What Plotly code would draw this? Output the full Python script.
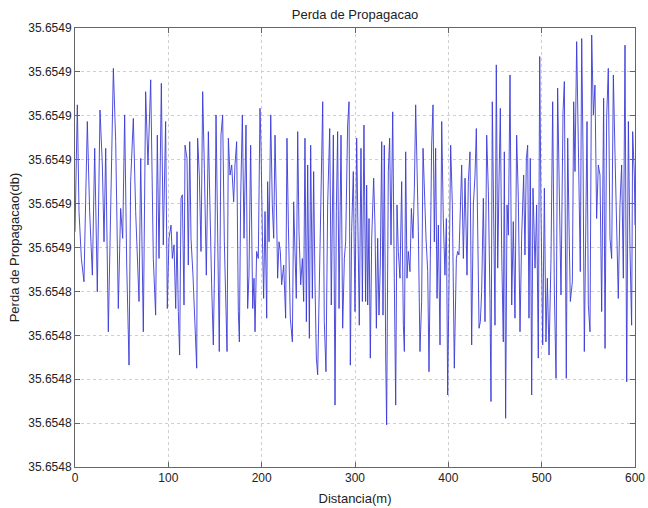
import plotly.graph_objects as go

# Distance (m) and propagation loss in segments.
# Loss values are given as offsets in micro-dB above BASE_DB.
BASE_DB = 35.6548

dist_a = [0.0,2.5,4.3,6.8,9.6,13.2,15.7,18.6,21.1,23.9,26.8,29.3,31.1,32.9,35.7,38.2,41.1,43.6,46.4,48.9,
          51.1,53.2,55.4,57.9,59.6,62.5,65.0,68.6,70.4,73.2,75.7,78.2,81.1,83.9,86.4,88.2,90.0,92.5,94.6,97.1,
          98.9,100.7]
loss_a = [53.6,82.5,58.2,47.5,42.2,78.7,58.2,43.7,72.6,39.9,81.3,68.8,51.3,72.6,30.8,58.2,90.8,74.1,36.1,58.9,
          52.1,80.2,46.0,23.2,65.0,79.4,58.2,37.7,70.3,30.8,85.5,68.8,88.2,47.5,34.6,75.6,47.5,87.4,50.6,78.7,
          36.1,52.1]

dist_b = [102.9,104.3,106.1,107.9,109.3,110.7,112.1,113.6,115.0,116.8,117.9,120.0,121.4,122.9,124.3,126.4,128.6,
          130.4,131.4,133.2,135.0,136.8,138.6,140.7,142.9,144.6,146.4,148.2,150.0,151.1,152.8,154.6,156.4,158.2,
          160.0,161.4,162.9,164.3,166.1,167.9,170.0,171.4,173.2,175.0,176.1,177.5,179.3,181.1,183.2,185.0,186.4,
          188.2,190.4,191.8,192.9,194.6,196.4,198.2]
loss_b = [55.1,47.5,50.6,36.1,53.6,35.4,25.5,61.2,62.0,36.9,73.3,70.3,46.0,74.1,52.1,43.7,30.1,22.5,74.9,66.5,
          49.1,85.5,68.0,43.7,76.4,55.1,41.5,27.8,52.1,80.2,58.9,26.3,75.6,80.2,51.3,41.5,26.3,74.9,66.5,68.8,
          60.4,68.8,74.1,35.4,28.5,61.2,80.2,52.1,77.9,36.1,43.7,73.3,36.1,43.0,30.8,49.1,47.5,81.7]

dist_c = [199.3,200.7,202.1,203.6,205.4,206.4,207.9,209.7,211.4,212.9,214.3,215.7,217.1,218.6,220.0,221.4,223.6,
          225.7,227.1,228.6,230.7,232.9,234.3,235.7,237.1,238.6,240.0,241.8,243.6,245.0,246.4,247.9,249.3,251.1,
          252.5,254.3,255.7,257.1,258.6,260.0,261.8,263.6,265.4,267.1,268.9,270.7,272.9,274.6,276.8,278.6,280.0,
          281.4,282.9,285.0,286.8,288.6,290.0,292.1,293.6]
loss_c = [73.3,53.6,38.4,58.2,33.9,65.0,51.3,80.2,59.7,52.1,75.6,61.2,43.0,51.3,49.1,41.5,46.0,33.9,74.9,55.1,
          33.9,28.5,60.4,49.1,38.4,76.4,53.6,41.5,47.5,37.7,74.9,33.1,68.8,29.3,73.3,38.4,67.3,42.2,24.8,21.0,
          43.0,66.5,83.2,33.1,21.7,59.7,77.1,36.9,75.6,14.1,58.2,76.4,36.1,75.6,31.6,47.5,51.3,77.9,83.2]

dist_d = [295.0,296.4,298.2,300.0,301.8,303.6,304.6,306.4,307.9,309.6,311.4,312.5,313.6,315.0,316.4,317.9,320.0,
          321.4,322.9,324.3,325.7,327.1,328.6,330.0,331.4,332.9,333.9,335.7,337.1,338.6,340.4,342.1,343.6,345.0,
          346.4,348.2,350.0,351.8,352.9,354.3,355.7,357.1,358.9,360.4,362.1,363.6,365.0,366.4,367.9,369.6,371.4,
          372.9,374.3,376.1,377.9,379.3,380.7,382.1,383.6,385.0,386.4,387.9,389.3,391.1]
loss_d = [23.2,53.6,67.3,35.4,74.9,52.1,32.3,72.6,37.7,77.9,37.7,64.2,36.9,56.6,24.8,52.1,65.8,55.1,31.6,52.1,
          34.6,46.0,74.1,34.6,73.3,24.8,9.6,67.3,74.9,50.6,80.9,43.0,14.1,59.7,49.1,43.0,65.0,32.3,26.3,71.8,
          43.0,49.1,44.5,58.9,52.1,63.5,82.5,68.8,53.6,26.3,37.7,72.6,61.2,52.1,44.5,21.7,47.5,73.3,82.5,51.3,
          72.6,38.4,55.1,27.8]

dist_e = [392.9,394.6,396.4,397.9,399.3,400.7,402.5,404.3,406.4,408.6,410.0,411.4,412.9,414.3,416.1,417.9,420.0,
          421.4,423.2,425.0,426.8,428.6,430.0,431.4,432.9,434.3,435.7,437.5,439.3,441.1,442.9,444.6,445.7,447.1,
          448.6,450.0,451.4,452.9,454.3,455.7,457.1,458.9,460.0,461.4,462.9,464.3,466.1,467.9,469.6,471.4,473.2,
          475.0,476.8,478.6,480.7,482.1,483.6,485.0,486.4]
loss_e = [78.7,56.6,43.7,56.6,16.4,48.3,73.3,59.7,22.5,47.5,49.1,48.3,58.2,68.8,47.5,65.8,43.7,65.0,71.8,27.8,
          59.7,66.5,77.1,52.1,31.6,33.1,39.9,61.2,33.1,75.6,62.7,38.4,14.9,83.2,58.2,32.3,91.6,45.3,65.0,81.7,
          49.8,28.5,71.8,11.1,59.7,52.8,89.3,36.9,55.9,33.9,75.6,61.2,30.8,52.8,66.5,48.3,70.3,73.3,33.9]

dist_f = [487.8,489.3,490.7,492.9,494.6,496.4,497.9,499.3,501.1,502.9,504.6,506.1,507.9,510.0,511.8,513.6,515.4,
          517.1,518.6,520.7,522.9,524.3,526.4,527.9,529.3,530.7,532.9,534.3,535.7,537.5,539.3,541.4,542.9,544.3,
          545.7,547.1,548.6,550.0,551.8,553.6,555.4,557.1,558.9,560.7,562.5,564.3,566.4,567.9,569.6,571.4,573.2,
          575.0,576.8,578.6,580.4,582.1,583.9,585.7,587.5,589.3,591.1,592.9,594.6,596.4,597.5,599.3,600.0]
loss_f = [70.3,16.4,63.5,45.3,59.7,24.8,93.5,58.2,27.8,63.5,28.5,43.0,25.5,47.5,83.2,39.9,20.2,86.3,67.3,39.2,
          80.9,87.8,20.2,74.9,55.1,37.7,42.2,83.2,67.3,96.9,73.3,44.5,97.6,71.8,26.3,52.1,78.7,36.9,30.8,98.4,
          80.2,87.0,56.6,68.8,66.5,35.4,84.0,27.0,79.4,90.8,52.1,47.5,89.3,71.1,49.8,38.4,59.7,68.8,43.0,96.1,
          19.4,78.7,49.8,32.3,76.4,66.5,55.1]

x_ticks = [0, 100, 200, 300, 400, 500, 600]
x_tick_labels = ["0", "100", "200", "300", "400", "500", "600"]
y_tick_steps = [0, 10, 20, 30, 40, 50, 60, 70, 80, 90, 100]  # micro-dB above BASE_DB
y_tick_labels = ["35.6548", "35.6548", "35.6548", "35.6548", "35.6548",
                 "35.6549", "35.6549", "35.6549", "35.6549", "35.6549", "35.6549"]

distance = dist_a + dist_b + dist_c + dist_d + dist_e + dist_f
offsets = loss_a + loss_b + loss_c + loss_d + loss_e + loss_f
loss_db = [BASE_DB + v * 1e-6 for v in offsets]
y_tick_vals = [BASE_DB + v * 1e-6 for v in y_tick_steps]

FONT = "Liberation Sans, Arial, sans-serif"

fig = go.Figure()
fig.add_trace(go.Scatter(
    x=distance, y=loss_db, mode="lines",
    line=dict(color="#3a3ad8", width=0.9),
    showlegend=False,
))

axis_common = dict(
    showline=True, linecolor="#666666", linewidth=1, mirror="ticks",
    ticks="inside", ticklen=5, tickcolor="#666666",
    showgrid=True, gridcolor="#cfcfcf", griddash="dot", gridwidth=1,
    zeroline=False, automargin=False,
    tickfont=dict(family=FONT, size=12, color="#222222"),
)

fig.update_layout(
    width=648, height=508,
    margin=dict(l=75, r=13, t=28, b=41),
    paper_bgcolor="white", plot_bgcolor="white",
    title=dict(text="Perda de Propagacao", x=0.548, xanchor="center", y=0.972, yanchor="middle",
               font=dict(family=FONT, size=13, color="#222222")),
    xaxis=dict(range=[0, 600], tickvals=x_ticks, ticktext=x_tick_labels,
               title=dict(text="Distancia(m)", standoff=9,
                          font=dict(family=FONT, size=13, color="#222222")),
               **axis_common),
    yaxis=dict(range=[BASE_DB, BASE_DB + 100e-6], tickvals=y_tick_vals, ticktext=y_tick_labels,
               title=dict(text="Perda de Propagacao(db)", standoff=5,
                          font=dict(family=FONT, size=13, color="#222222")),
               **axis_common),
)

# Remove the page's default body margin so the 648x508 figure fills the window exactly.
fig.write_html(
    "out.html",
    config={"displayModeBar": False},
    post_script="document.body.style.margin='0';document.body.style.overflow='hidden';",
)
